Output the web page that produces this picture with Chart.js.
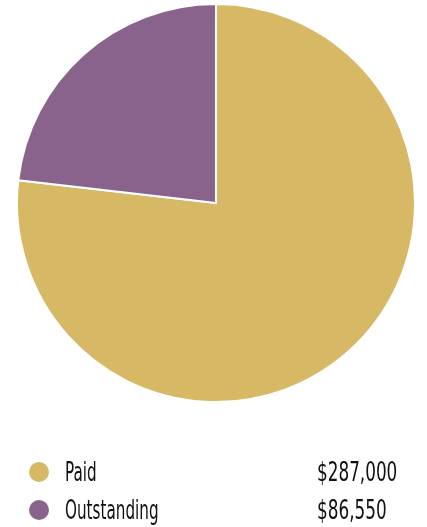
<!DOCTYPE html>
<html><head><meta charset="utf-8">
<script src="https://cdn.jsdelivr.net/npm/chart.js@4"></script>
<style>
html,body{margin:0;padding:0;background:#fff;}
#wrap{position:relative;width:427px;height:527px;}
#c{position:absolute;left:0;top:0;}
.row{position:absolute;left:0;width:427px;height:30px;font-family:"DejaVu Sans Condensed",sans-serif;font-size:26px;color:#111;}
.dot{position:absolute;left:29px;width:20px;height:20px;border-radius:50%;}
.lab{position:absolute;left:65px;transform-origin:left center;transform:scaleX(0.65);white-space:nowrap;}
.val{position:absolute;left:317px;transform-origin:left center;transform:scaleX(0.72);white-space:nowrap;}
</style></head>
<body><div id="wrap"><canvas id="c" width="427" height="527"></canvas><div id="legend"></div></div>
<script>
const categories = ["Paid", "Outstanding"];
const values = [287000, 86550];
const valueLabels = ["$287,000", "$86,550"];
const colors = ["#D7B965", "#8A638C"];

const legend = document.getElementById('legend');
const rowTops = [457, 495];
categories.forEach((c, i) => {
  const r = document.createElement('div');
  r.className = 'row';
  r.style.top = rowTops[i] + 'px';
  r.innerHTML = '<div class="dot" style="top:5px;background:' + colors[i] + '"></div>' +
    '<div class="lab" style="top:0">' + c + '</div>' +
    '<div class="val" style="top:0">' + valueLabels[i] + '</div>';
  legend.appendChild(r);
});

new Chart(document.getElementById('c'), {
  type: 'pie',
  data: { labels: categories, datasets: [{ data: values, backgroundColor: colors, borderColor: '#fff', borderWidth: 2 }] },
  options: {
    responsive: false, animation: false,
    layout: { padding: { left: 16, right: 11, top: 3, bottom: 124 } },
    plugins: { legend: { display: false }, tooltip: { enabled: false } }
  }
});
</script></body></html>
